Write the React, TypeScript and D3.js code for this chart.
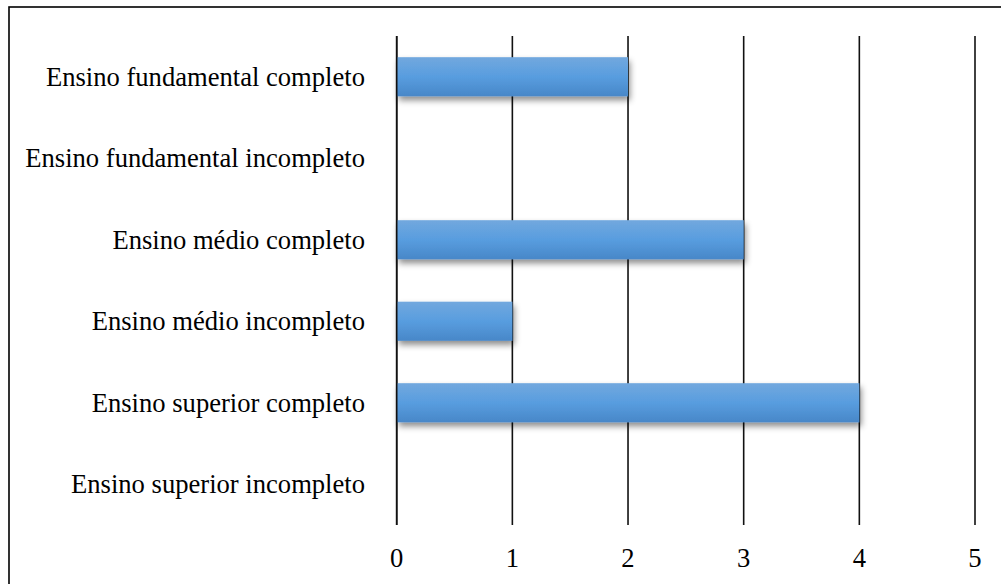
import React from "react";
import * as d3 from "d3";

const categories = [
  "Ensino fundamental completo",
  "Ensino fundamental incompleto",
  "Ensino médio completo",
  "Ensino médio incompleto",
  "Ensino superior completo",
  "Ensino superior incompleto",
];
const values = [2, 0, 3, 1, 4, 0];
const tickValues = [0, 1, 2, 3, 4, 5];

const W = 1001;
const H = 584;
const plot = { left: 396.7, right: 975, top: 36, bottom: 525 };
const font = "'Liberation Serif', 'Times New Roman', serif";

export default function App() {
  const x = d3.scaleLinear().domain([0, 5]).range([plot.left, plot.right]);
  const y = d3
    .scaleBand<string>()
    .domain(categories)
    .range([plot.top, plot.bottom])
    .paddingInner(0.52)
    .paddingOuter(0.26);

  return (
    <svg
      width={W}
      height={H}
      style={{ position: "absolute", left: 0, top: 0, background: "#fff" }}
    >
      <defs>
        <linearGradient id="barFill" x1="0" y1="0" x2="0" y2="1">
          <stop offset="0%" stopColor="#72a8de" />
          <stop offset="50%" stopColor="#589ddf" />
          <stop offset="100%" stopColor="#4887c8" />
        </linearGradient>
        <filter id="barShadow" x="-10%" y="-30%" width="120%" height="180%">
          <feDropShadow dx="2" dy="4" stdDeviation="3" floodColor="#000" floodOpacity="0.45" />
        </filter>
      </defs>

      {/* frame */}
      <rect x={9} y={7} width={W} height={H} fill="none" stroke="#000" strokeWidth={1.6} />

      {/* vertical gridlines */}
      {tickValues.map((t) => (
        <line
          key={"g" + t}
          x1={x(t)}
          x2={x(t)}
          y1={plot.top}
          y2={plot.bottom}
          stroke="#111"
          strokeWidth={1.6}
        />
      ))}

      {/* bars */}
      {categories.map((c, i) =>
        values[i] > 0 ? (
          <rect
            key={"b" + c}
            x={x(0)}
            y={y(c)!}
            width={x(values[i]) - x(0)}
            height={y.bandwidth()}
            fill="url(#barFill)"
            filter="url(#barShadow)"
          />
        ) : null
      )}

      {/* zero axis line */}
      <line x1={x(0)} x2={x(0)} y1={plot.top} y2={plot.bottom} stroke="#111" strokeWidth={1.6} />

      {/* category labels */}
      {categories.map((c) => (
        <text
          key={"l" + c}
          x={365}
          y={y(c)! + y.bandwidth() / 2}
          dy="0.33em"
          textAnchor="end"
          fontFamily={font}
          fontSize={26.6}
          fill="#000"
        >
          {c}
        </text>
      ))}

      {/* value tick labels */}
      {tickValues.map((t) => (
        <text
          key={"t" + t}
          x={x(t)}
          y={567}
          textAnchor="middle"
          fontFamily={font}
          fontSize={26.6}
          fill="#000"
        >
          {t}
        </text>
      ))}
    </svg>
  );
}
